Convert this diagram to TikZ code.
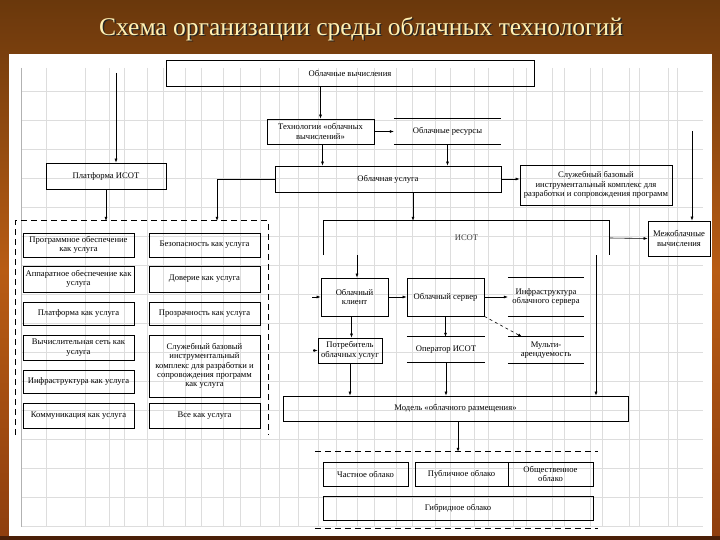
\documentclass[tikz,border=0pt]{standalone}
\usepackage{fontspec}
\setmainfont{Liberation Serif}
\usetikzlibrary{arrows.meta,positioning,calc}
\definecolor{slidetop}{HTML}{6A380C}
\definecolor{slidemid}{HTML}{B85C14}
\definecolor{slidebot}{HTML}{8E3E0E}
\definecolor{slideedge}{HTML}{4A2008}
\definecolor{titletext}{HTML}{FFF1B4}
\definecolor{gridline}{HTML}{DDDDDD}

\begin{document}
\begin{tikzpicture}[x=1pt, y=-1pt,
  every node/.style={font=\fontsize{8.6}{9.4}\selectfont},
  blk/.style={draw, line width=0.7pt, align=center, inner sep=1pt},
  bare/.style={align=center, inner sep=1pt},
  arr/.style={-{Latex[length=4pt,width=3pt]}, line width=0.6pt},
  grp/.style={dash pattern=on 6pt off 4pt, line width=0.8pt}
]
  \useasboundingbox (0,0) rectangle (720,540);

  % slide background and sheet
  \shade[top color=slidetop, bottom color=slidebot, middle color=slidemid] (0,0) rectangle (720,540);
  \fill[slideedge] (0,536) rectangle (720,540);
  \fill[white] (9,54) rectangle (712,536);
  \foreach \gx in {0,...,15} \draw[gridline] (109+37.9*\gx,68) -- ++(0,459);
  \foreach \gx in {0,...,16} \draw[gridline] (46+38.9*\gx,68) -- ++(0,459);
  \foreach \gy in {0,...,15} \draw[gridline] (21,91+29*\gy) -- ++(682,0);
  \draw[gray!60] (21,68) -- (21,527);

  % title
  \node[font=\fontsize{25.5}{25.5}\selectfont, text=black!85] (titleshadow) at (362.5,30.5) {Схема организации среды облачных технологий};
  \node[font=\fontsize{25.5}{25.5}\selectfont, text=titletext] (title) at (361,29) {Схема организации среды облачных технологий};

  % top part
  \node[blk, minimum width=368pt, minimum height=26pt] (calc) at (350,73) {Облачные вычисления};
  \node[blk, minimum width=107pt, minimum height=25pt] (tech) at (320.5,131.5) {Технологии «облачных\\вычислений»};
  \node[bare, minimum width=107pt, minimum height=25pt] (res) at (447.5,131.5) {Облачные ресурсы};
  \node[blk, minimum width=120pt, minimum height=26pt] (plat) at (106,176) {Платформа ИСОТ};
  \node[blk, minimum width=226pt, minimum height=26pt] (usl) at (388,179) {Облачная услуга};
  \node[blk, minimum width=152pt, minimum height=40pt, inner sep=0pt] (tool) at (596,185)
    {Служебный базовый\\инструментальный комплекс для\\разработки и сопровождения программ};
  \node[bare, minimum width=285pt, minimum height=34pt, text=black!75] (isot) at (466.5,238) {ИСОТ};
  \node[blk, minimum width=62pt, minimum height=35pt] (inter) at (679,238.5) {Межоблачные\\вычисления};

  % services group
  \node[minimum width=252pt, minimum height=214pt] (svc) at (142,328) {};
  \node[blk, minimum width=111pt, minimum height=24pt] (saas) at (78.5,245) {Программное обеспечение\\как услуга};
  \node[blk, minimum width=111pt, minimum height=26pt] (haas) at (78.5,279) {Аппаратное обеспечение как\\услуга};
  \node[blk, minimum width=111pt, minimum height=23pt] (paas) at (78.5,313.5) {Платформа как услуга};
  \node[blk, minimum width=111pt, minimum height=25pt] (naas) at (78.5,347.5) {Вычислительная сеть как\\услуга};
  \node[blk, minimum width=111pt, minimum height=23pt] (iaas) at (78.5,381.5) {Инфраструктура как услуга};
  \node[blk, minimum width=111pt, minimum height=25pt] (caas) at (78.5,415.5) {Коммуникация как услуга};
  \node[blk, minimum width=111pt, minimum height=24pt] (secaas) at (204.5,245) {Безопасность как услуга};
  \node[blk, minimum width=111pt, minimum height=26pt] (traas) at (204.5,279) {Доверие как услуга};
  \node[blk, minimum width=111pt, minimum height=23pt] (tpaas) at (204.5,313.5) {Прозрачность как услуга};
  \node[blk, minimum width=111pt, minimum height=62pt] (toolaas) at (204.5,366)
    {Служебный базовый\\инструментальный\\комплекс для разработки и\\сопровождения программ\\как услуга};
  \node[blk, minimum width=111pt, minimum height=25pt] (xaas) at (204.5,415.5) {Все как услуга};

  % middle part
  \node[blk, minimum width=67pt, minimum height=38pt] (client) at (354.5,297) {Облачный\\клиент};
  \node[blk, minimum width=77pt, minimum height=38pt] (server) at (445.5,297) {Облачный сервер};
  \node[bare, minimum width=76pt, minimum height=38pt] (infra) at (546,297) {Инфраструктура\\облачного сервера};
  \node[blk, minimum width=64pt, minimum height=25pt, inner sep=0pt] (cons) at (350,350.5) {Потребитель\\облачных услуг};
  \node[bare, minimum width=78pt, minimum height=25pt] (oper) at (446,349.5) {Оператор ИСОТ};
  \node[bare, minimum width=76pt, minimum height=26pt] (multi) at (546,350) {Мульти-\\арендуемость};
  \node[blk, minimum width=345pt, minimum height=25pt] (model) at (455.5,408.5) {Модель «облачного размещения»};

  % deployment group
  \node[minimum width=283pt, minimum height=76pt] (dep) at (456.5,490) {};
  \node[blk, minimum width=85pt, minimum height=24pt] (priv) at (365.5,474) {Частное облако};
  \node[blk, minimum width=93pt, minimum height=24pt] (pub) at (461.5,474) {Публичное облако};
  \node[blk, minimum width=85pt, minimum height=24pt] (comm) at (550.5,474) {Общественное\\облако};
  \node[blk, minimum width=270pt, minimum height=24pt] (hyb) at (458,508) {Гибридное облако};

  % open frames
  \foreach \n in {res,infra,oper,multi}
    \draw[line width=0.7pt] (\n.north west) -- (\n.north east) (\n.south west) -- (\n.south east);
  \draw[line width=0.7pt] (isot.south west) -- (isot.north west) -- (isot.north east) -- (isot.south east);
  \draw[grp] (svc.south west) -- (svc.north west) -- (svc.north east) -- (svc.south east);
  \draw[grp] (dep.north west) -- (dep.north east) (dep.south west) -- (dep.south east);

  % connectors
  \coordinate (platin) at (116,73);
  \coordinate (interin) at (692,131);
  \coordinate (cliin) at (312,297);
  \coordinate (consin) at (313,350.5);
  \draw[arr] (tech.north |- calc.south) -- (tech.north);
  \draw[arr] (platin) -- (platin |- plat.north);
  \draw[arr] (tech.east) -- (res.west);
  \draw[arr] ([xshift=2pt]tech.south) -- ([xshift=2pt]tech.south |- usl.north);
  \draw[arr] (res.south) -- (res.south |- usl.north);
  \draw[arr] (usl.west) -| ([xshift=75pt]svc.north);
  \draw[arr] (plat.south) -- (plat.south |- svc.north);
  \draw[arr] (usl.east) -- (usl.east -| tool.west);
  \draw[arr] ([xshift=25pt]usl.south) -- ([xshift=25pt]usl.south |- isot.north);
  \draw[arr] (interin) -- (interin |- inter.north);
  \draw[arr] (isot.east) -- (inter.west);
  \draw[arr] ([xshift=-109.5pt]isot.south) -- ([xshift=-109.5pt]isot.south |- client.north);
  \draw[arr] ([xshift=129.5pt]isot.south) -- ([xshift=129.5pt]isot.south |- model.north);
  \draw[arr] (cliin) -- (client.west);
  \draw[arr] (client.east) -- (server.west);
  \draw[arr] (server.east) -- (infra.west);
  \draw[arr] ([xshift=-3pt]client.south) -- ([xshift=-3pt]client.south |- cons.north);
  \draw[arr] (consin) -- (cons.west);
  \draw[arr] (server.south) -- (server.south |- oper.north);
  \draw[arr, dashed] (server.south east) -- ([xshift=-24pt]multi.north);
  \draw[arr] (oper.south) -- (oper.south |- model.north);
  \draw[arr] (cons.south) -- (cons.south |- model.north);
  \draw[arr] ([xshift=2.5pt]model.south) -- ([xshift=2.5pt]model.south |- dep.north);
\end{tikzpicture}
\end{document}
